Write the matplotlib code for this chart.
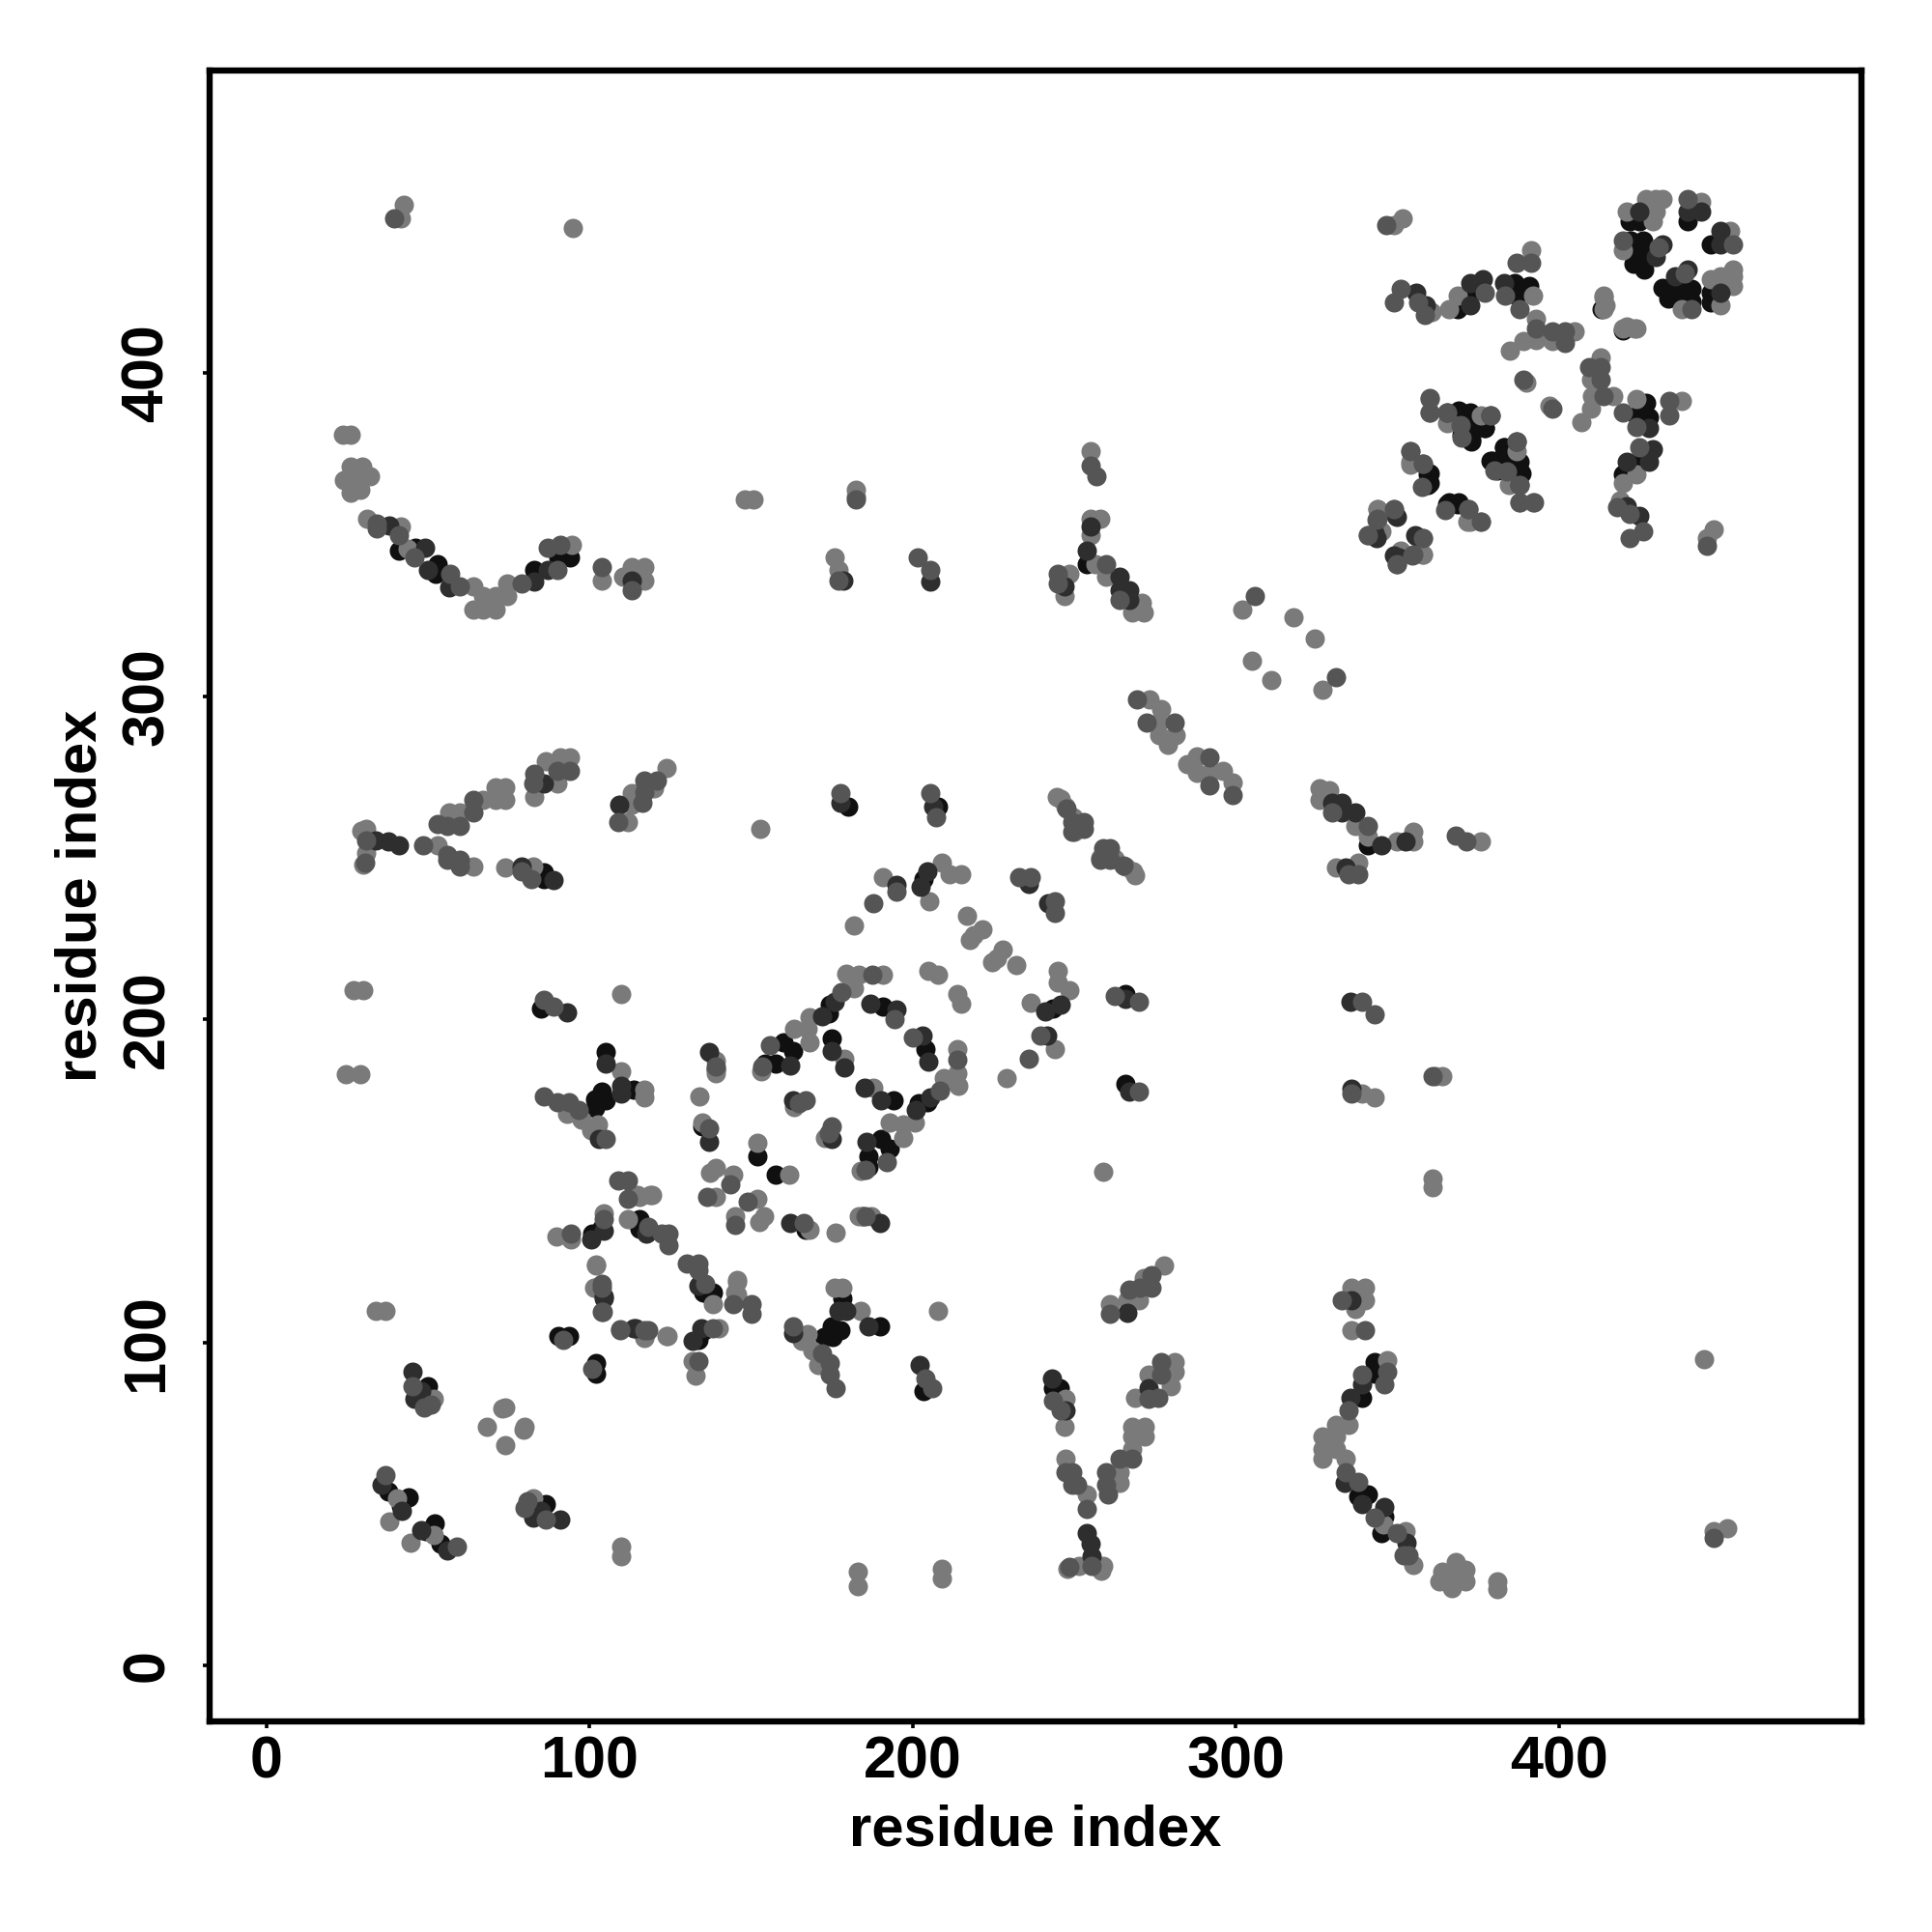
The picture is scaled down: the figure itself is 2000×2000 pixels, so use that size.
import matplotlib
matplotlib.use('Agg')
import matplotlib.pyplot as plt

# contact map, symmetric: each contact is stored once with i < j and drawn as (i, j) and (j, i)
light_i = [23.7, 26.2, 26.2, 29.7, 24.2, 27.7, 32.2, 26.2, 29.2, 29.7, 31.2, 41.7, 43.7, 64, 64, 67, 71, 67, 71, 74.6, 74.6, 94.5, 104, 110.4, 113, 117, 117,
           94, 91, 86.5, 90, 83, 74, 71, 74, 71, 67, 60, 56.6, 31, 29.5, 31, 30, 53, 64, 74, 82.5, 124, 120, 113, 113, 112, 148, 150.8,
           255, 258, 255, 255, 256.5, 260, 271, 268, 271.5, 248.5, 247, 273.4, 277, 281.4, 276.4, 279, 276, 302, 318, 305,
           351.6, 349, 391.5, 360.6, 366, 368.6, 392, 393, 389, 393, 385, 398, 405, 414, 414.4, 423.4, 420, 390, 427, 430, 432, 444, 421, 430, 429, 420,
           365.6, 376, 385, 388, 392, 354, 371.6, 376, 344, 344.7, 358, 351, 358, 350,
           205, 208, 191, 183.5, 179.5, 181.8, 168, 163.5, 168, 167.5, 153.2, 215, 209, 211.5, 205.3, 191, 182, 217, 221.8, 217.8, 219,
           110, 110, 93, 97.7, 102.8, 100.6, 117, 117, 139, 139, 134, 135, 152, 139, 137.5, 144.6, 139, 114.9, 118.9, 89.7, 94.3, 104.6, 112,
           102, 101.7, 117, 124, 163.5, 179, 119.4, 115.4,
           40.4, 38, 52, 68.3, 73, 74, 34, 37, 24.8, 29, 27, 30, 41.6, 42.7, 95, 182.6, 182.6, 176, 177, 153, 244.8, 247.5, 250, 262.7, 268.4]
light_j = [381, 381, 371, 371, 367, 368.6, 368, 363, 364, 368.6, 355, 352.6, 345.7, 334, 327, 327, 327, 331, 331, 331, 335, 347, 336, 337, 340, 340, 336,
           281, 281, 280, 273, 269, 272, 272, 268, 268, 268, 264, 264, 259, 258.5, 251.5, 248, 254, 247.5, 247, 247.5, 278, 271.5, 270, 266.5, 261, 361, 361,
           376, 355, 355, 350, 341, 337, 329, 326, 326, 338, 331, 299, 296, 288, 288, 285, 292, 327, 324.5, 311,
           448, 446, 438, 419, 420, 424, 424, 417, 410, 410.4, 407, 410, 413, 424, 421, 414, 414, 397, 454, 454, 454, 453, 450, 450, 447, 438,
           384.5, 387, 366, 360, 360, 372.5, 354, 354, 358, 351, 349, 345, 344, 341,
           215, 214, 214, 213.8, 214.3, 209.8, 200.6, 197, 193, 197, 184, 245, 248.7, 245, 236.7, 244, 229.2, 232, 228, 224.6, 226,
           208, 184, 170.9, 169, 167.4, 165.7, 178.3, 176, 187.2, 183.4, 176.2, 168, 162, 154, 152.5, 152, 145, 145.7, 145.7, 133, 132, 140, 138.3,
           124.3, 117, 101.6, 102.2, 173, 188, 145.8, 145,
           52, 44.6, 82.7, 74, 79.7, 80, 110, 110, 183, 183, 209, 209, 448, 452, 445, 364, 362, 343, 339, 259, 268.8, 265.8, 258, 249.7, 246]

mid_i = [34.2, 34.2, 41.2, 46, 57, 60, 79, 90, 87, 91, 104, 113, 94, 90, 83, 82.5, 64, 64, 53, 56, 60, 31, 30.7, 48.7, 56, 56, 60, 60, 82, 79, 121, 117, 117, 116.4, 109,
         255, 257, 260, 264, 245, 245, 269.4, 272.4, 281, 306,
         346.7, 387, 391.5, 351, 349, 356.6, 358.6, 377, 383.5, 388, 393, 398, 402, 402, 420, 389, 440, 431, 360, 360, 365.6, 369.6, 387, 380, 354, 358, 357.6, 372, 349, 343.6, 341, 355,
         187.5, 178, 156, 153.5, 194.4, 233, 236.7, 195, 188, 86, 89, 90, 86, 93.7, 96.6, 105, 139, 137, 167, 165, 143.5, 136.6, 109, 112, 112, 94.3, 104.6, 118.3, 124.6, 124.6, 122.3,
         104, 104, 109.7, 117, 92, 37, 45.4, 51, 49, 39.7, 182.6, 177, 201.7, 205.5, 177.7, 205.5, 207.4, 249.4, 253, 259, 258, 265.4]
mid_j = [353.6, 352, 350, 343, 338, 334, 335, 339, 346, 347, 340, 333, 277, 277, 276, 273, 268, 264, 260.5, 260, 260, 255.5, 248.5, 254, 251, 249.5, 249.5, 247.5, 243.5, 246, 274, 274, 270.5, 267, 261,
         371.5, 368, 341, 330, 338, 335, 299, 292, 292, 331,
         446, 434.3, 434.3, 426, 422, 422, 418, 425, 424, 420, 414, 413, 413, 409.4, 441, 398, 454, 439, 392.5, 388, 388, 384, 379, 370, 376, 372, 365, 358, 358, 354.6, 350, 344,
         213.8, 208.6, 192, 185.5, 200, 244, 244, 239.5, 236, 206, 204, 174.5, 176.2, 174.3, 172, 163.2, 185.5, 166.3, 175, 174, 149, 145, 150.3, 150.3, 144.6, 133.7, 138.3, 136, 133.7, 130.3, 133.7,
         118.2, 109.6, 104.2, 104, 101, 59, 86.5, 81, 80, 448, 361, 336, 343, 339, 270, 270, 262.7, 261, 261, 253, 249.4, 247.8]

dark_i = [38.2, 49.2, 50, 56.6, 83, 87, 113, 86, 34, 37.7, 41, 79, 89, 109.4, 255, 254, 264, 264, 267, 267, 247,
          356, 359, 372.6, 372.6, 376.6, 383, 425, 440, 444, 432, 430, 379, 388, 349.6, 343, 355.6, 349,
          176, 172, 187, 195, 162.3, 204.7, 202.4, 195, 236, 93, 105, 110, 110, 137, 137, 163, 175, 179, 100.6, 104.6, 117.7, 104.6, 113.7, 103,
          42, 35.8, 45.4, 46, 48, 178.5, 205.5, 206.5, 177.7]
dark_j = [353, 346, 339, 333.7, 335.7, 339, 336, 273, 255.5, 255, 254, 247.5, 243.3, 266.5, 352.6, 345, 337, 333, 333, 330, 334,
          425, 421, 421, 428, 429, 428, 450, 450, 450, 440, 436, 387, 365.5, 356, 350.5, 350, 343.5,
          205.5, 201, 205, 203, 185.7, 245.8, 241, 241.8, 242, 202.3, 186.3, 179.4, 177, 190, 162.3, 175, 190.3, 185.2, 132, 134.8, 133.7, 114.2, 104.5, 163.2,
          48, 56, 91, 82.7, 85, 336, 335.6, 266, 267]

black_i = [41.2, 46.2, 53, 52.6, 83, 90.5, 94, 86, 86, 254, 368.6, 372.6, 386.5, 391, 387, 413.4, 422, 425, 440, 422.4, 426, 424, 426.4, 423, 426.4,
           369, 372.6, 370, 373, 373, 377, 379, 383, 387, 388, 383, 360, 360, 365.6, 368.6,
           174.4, 174, 160, 163, 157.8, 154.3, 203.5, 191, 175, 85, 105, 104, 101.7, 101.7, 113.7, 139, 152, 135, 101, 114.3, 115.4, 90.3, 93.7,
           37.8, 44.2, 41.6, 50, 180, 208, 115.4, 118, 104, 105]
black_j = [345, 346, 341, 338, 339, 343, 343, 245.5, 243.5, 341, 420, 424.3, 428, 427, 424, 420, 447, 447, 447, 441, 441, 437, 437, 434, 432,
           388.5, 388, 381, 384, 379.5, 383, 373, 377, 373, 370, 370.5, 369, 366, 359.6, 359.6,
           204.6, 202, 193, 190.3, 186.3, 186.3, 243.5, 204, 194.3, 203.5, 190, 177.7, 175.4, 172.6, 178.3, 184.5, 157.7, 167, 133.7, 137.7, 135.4, 102.2, 102.2,
           54, 52.2, 49.6, 86.5, 266, 266, 138.3, 134, 135.5, 175]

ticks = [0, 100, 200, 300, 400]

plt.rcParams['font.family'] = ['Liberation Sans', 'DejaVu Sans']
plt.rcParams['font.weight'] = 'bold'

fig = plt.figure(figsize=(10, 10), dpi=200)
ax = fig.add_axes([0.1085, 0.109, 0.855, 0.8545])

# black goes first, the reference shows it as crescents under the greys
groups = [(black_i, black_j, '#101010'),
          (light_i, light_j, '#7a7a7a'),
          (dark_i, dark_j, '#2e2e2e'),
          (mid_i, mid_j, '#555555')]
for i, j, col in groups:
    ax.scatter(i + j, j + i, s=52, c=col, linewidths=0)

ax.set_xlim(-17.5, 493.7)
ax.set_ylim(-17.2, 493.7)
ax.set_xticks(ticks)
ax.set_yticks(ticks)
ax.tick_params(axis='both', length=2.6, width=1.3, labelsize=22)
ax.tick_params(axis='x', pad=2.5)
ax.tick_params(axis='y', pad=10)
plt.setp(ax.get_yticklabels(), rotation=90, ha='center', va='bottom', rotation_mode='anchor')
for s in ax.spines.values():
    s.set_linewidth(2.3)

ax.set_xlabel('residue index', fontsize=21.5, fontweight='bold', labelpad=5)
ax.set_ylabel('residue index', fontsize=21.5, fontweight='bold', labelpad=5)

fig.savefig('out.png', dpi=200, facecolor='white')
